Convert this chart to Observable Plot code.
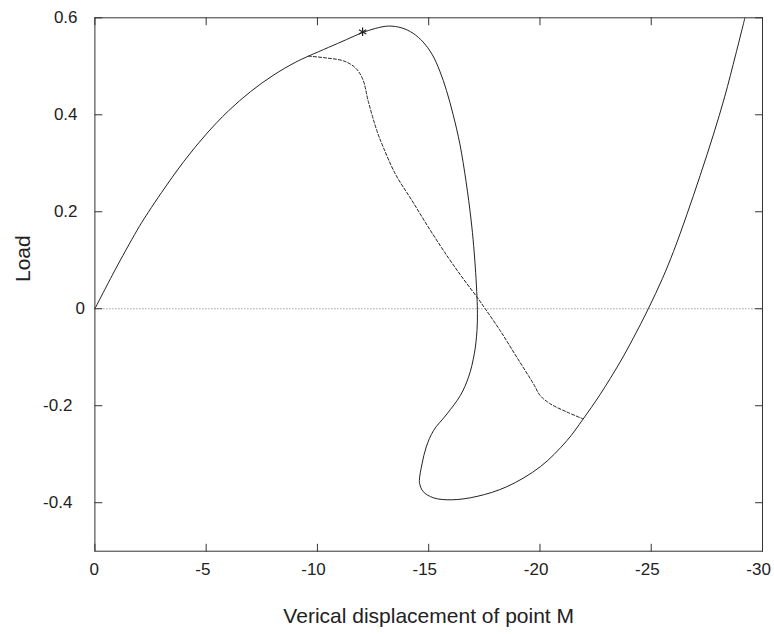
<!DOCTYPE html>
<html><head><meta charset="utf-8">
<script src="https://cdn.jsdelivr.net/npm/d3@7"></script>
<script src="https://cdn.jsdelivr.net/npm/@observablehq/plot@0.6"></script>
<style>body{margin:0;background:#fff} #chart svg{display:block}</style>
</head><body><div id="chart"></div>
<script>
// Solid equilibrium path
const solidX = [0, -1, -2, -2.4, -3, -4, -5, -6, -7, -8, -9, -9.6, -10.5, -11.3, -12, -12.6, -13.2, -13.8, -14.3, -14.75, -15.15, -15.5, -15.8, -16.1, -16.4, -16.68, -16.9, -17.02, -17.11, -17.17, -17.19, -17.17, -17.05, -16.79, -16.42, -15.82, -15.22, -14.89, -14.70, -14.58, -14.60, -14.75, -15.22, -16.04, -17.17, -18.51, -20.01, -21.21, -21.93, -22.70, -23.60, -24.20, -24.87, -25.5, -26.0, -26.6, -27.2, -27.8, -28.3, -28.8, -29.21];
const solidY = [0, 0.088, 0.170, 0.199, 0.240, 0.304, 0.360, 0.408, 0.448, 0.481, 0.508, 0.521, 0.539, 0.555, 0.569, 0.578, 0.583, 0.579, 0.568, 0.550, 0.525, 0.490, 0.450, 0.400, 0.340, 0.262, 0.185, 0.130, 0.075, 0.024, -0.010, -0.045, -0.093, -0.141, -0.179, -0.217, -0.251, -0.285, -0.320, -0.354, -0.362, -0.377, -0.390, -0.394, -0.387, -0.367, -0.326, -0.272, -0.228, -0.177, -0.110, -0.060, 0.0, 0.062, 0.118, 0.194, 0.275, 0.360, 0.437, 0.525, 0.600];
// Dashed branch
const dashedX = [-9.6, -10.43, -11.18, -11.7, -12.03, -12.3, -12.68, -12.97, -13.5, -14.25, -15.07, -15.9, -16.55, -17.17, -17.54, -18.21, -18.96, -19.71, -20.01, -20.46, -21.21, -21.93];
const dashedY = [0.521, 0.517, 0.511, 0.497, 0.474, 0.425, 0.366, 0.332, 0.278, 0.223, 0.162, 0.104, 0.062, 0.024, 0.0, -0.045, -0.100, -0.155, -0.179, -0.196, -0.213, -0.227];
// Marked point
const starX = [-12.03];
const starY = [0.571];
// Ticks and labels
const xTicks = [0, -5, -10, -15, -20, -25, -30];
const yTicks = [-0.4, -0.2, 0, 0.2, 0.4, 0.6];
const xLabel = "Verical displacement of point M";
const yLabel = "Load";

const solid = solidX.map((x, i) => ({x, y: solidY[i]}));
const dashed = dashedX.map((x, i) => ({x, y: dashedY[i]}));
const star = starX.map((x, i) => ({x, y: starY[i]}));

const ink = "#222";
const font = "'Liberation Sans', Arial, Helvetica, sans-serif";
const tickShape = {draw(ctx, l) { ctx.moveTo(0, 0); ctx.lineTo(0, -l); }};
const tickOpts = {length: 7, anchor: "start", shape: tickShape, stroke: "#333", strokeWidth: 1};
const nch = d => String(d).length;

const marks = [
  Plot.ruleY([0], {stroke: "#777", strokeWidth: 1, strokeDasharray: "1,2"}),
  Plot.line(solid, {x: "x", y: "y", curve: "catmull-rom", stroke: ink, strokeWidth: 1}),
  Plot.line(dashed, {x: "x", y: "y", curve: "catmull-rom", stroke: ink, strokeWidth: 1, strokeDasharray: "3,2"}),
  Plot.dot(star, {x: "x", y: "y", symbol: "asterisk", r: 4, stroke: ink, strokeWidth: 1.2}),
  Plot.frame({stroke: "#333", strokeWidth: 1}),
  Plot.vector(xTicks, {x: d => d, frameAnchor: "bottom", rotate: 0, ...tickOpts}),
  Plot.vector(xTicks, {x: d => d, frameAnchor: "top", rotate: 180, ...tickOpts}),
  Plot.vector(yTicks, {y: d => d, frameAnchor: "left", rotate: 90, ...tickOpts}),
  Plot.vector(yTicks, {y: d => d, frameAnchor: "right", rotate: -90, ...tickOpts})
];
for (const n of [1, 2, 3]) {
  marks.push(Plot.text(xTicks.filter(d => nch(d) === n), {
    x: d => d, text: d => String(d), frameAnchor: "bottom", textAnchor: "start",
    dx: -n * 5.4, dy: 23.5, fontSize: 17, fill: ink
  }));
}
for (const n of [1, 3, 4]) {
  marks.push(Plot.text(yTicks.filter(d => nch(d) === n), {
    y: d => d, text: d => String(d), frameAnchor: "left", textAnchor: "start",
    dx: 85.8 - n * 10.8 - 94.4, fontSize: 17, fill: ink
  }));
}
marks.push(Plot.text([xLabel], {frameAnchor: "bottom", dy: 71.5, fontSize: 21, fill: ink}));
marks.push(Plot.text([yLabel], {frameAnchor: "left", rotate: -90, dx: -72, dy: -2.5, fontSize: 21, fill: ink}));

const chart = Plot.plot({
  width: 774,
  height: 634,
  marginLeft: 94.4,
  marginRight: 12,
  marginTop: 17.3,
  marginBottom: 83.3,
  x: {domain: [0, -30], axis: null},
  y: {domain: [-0.5, 0.6], axis: null},
  style: {fontFamily: font, background: "#fff", overflow: "visible"},
  marks
});
document.getElementById("chart").append(chart);
</script>
</body></html>
